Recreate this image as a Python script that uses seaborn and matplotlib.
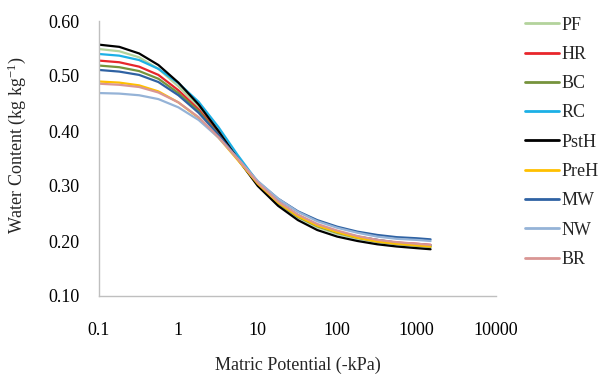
import matplotlib
matplotlib.use("Agg")
import matplotlib.pyplot as plt
import seaborn as sns
import pandas as pd

# Matric potential (-kPa)
potential = [0.1, 0.18, 0.32, 0.56, 1, 1.8, 3.2, 5.6, 10, 18, 32, 56, 100, 180, 320, 560, 1000, 1500]

series_names = ["PF", "HR", "BC", "RC", "PstH", "PreH", "MW", "NW", "BR"]

PF   = [0.549, 0.545, 0.534, 0.513, 0.481, 0.444, 0.399, 0.350, 0.303, 0.268, 0.243, 0.225, 0.213, 0.204, 0.198, 0.194, 0.191, 0.189]
HR   = [0.528, 0.525, 0.517, 0.502, 0.474, 0.439, 0.396, 0.350, 0.304, 0.270, 0.246, 0.229, 0.217, 0.208, 0.202, 0.197, 0.195, 0.193]
BC   = [0.519, 0.516, 0.509, 0.495, 0.469, 0.436, 0.394, 0.349, 0.303, 0.269, 0.244, 0.227, 0.215, 0.206, 0.199, 0.195, 0.192, 0.190]
RC   = [0.540, 0.537, 0.529, 0.513, 0.487, 0.453, 0.407, 0.356, 0.307, 0.272, 0.247, 0.229, 0.217, 0.208, 0.202, 0.197, 0.194, 0.192]
PstH = [0.557, 0.553, 0.541, 0.520, 0.488, 0.448, 0.400, 0.349, 0.300, 0.264, 0.238, 0.220, 0.208, 0.200, 0.194, 0.190, 0.187, 0.185]
PreH = [0.490, 0.488, 0.483, 0.472, 0.452, 0.424, 0.388, 0.347, 0.304, 0.270, 0.245, 0.228, 0.216, 0.206, 0.199, 0.195, 0.192, 0.190]
MW   = [0.511, 0.508, 0.502, 0.489, 0.465, 0.433, 0.393, 0.350, 0.308, 0.277, 0.254, 0.238, 0.226, 0.217, 0.211, 0.207, 0.205, 0.203]
NW   = [0.469, 0.468, 0.465, 0.458, 0.443, 0.420, 0.388, 0.350, 0.309, 0.277, 0.253, 0.236, 0.224, 0.215, 0.208, 0.204, 0.202, 0.200]
BR   = [0.486, 0.484, 0.480, 0.470, 0.452, 0.425, 0.389, 0.349, 0.306, 0.272, 0.248, 0.231, 0.219, 0.209, 0.202, 0.198, 0.195, 0.193]

colors = {
    "PF": "#b3d39c", "HR": "#e8262b", "BC": "#76933c", "RC": "#1cb0e6",
    "PstH": "#000000", "PreH": "#ffc000", "MW": "#2f62a3", "NW": "#95b3d7",
    "BR": "#d99694",
}

values = {"PF": PF, "HR": HR, "BC": BC, "RC": RC, "PstH": PstH,
          "PreH": PreH, "MW": MW, "NW": NW, "BR": BR}

rows = []
for name in series_names:
    for x, y in zip(potential, values[name]):
        rows.append({"Potential": x, "Water": y, "Site": name})
df = pd.DataFrame(rows)

sns.set_style("white")
plt.rcParams["font.family"] = ["Liberation Serif", "DejaVu Serif"]
plt.rcParams["mathtext.fontset"] = "stix"

FS = 13

fig = plt.figure(figsize=(6.07, 3.77), dpi=100)
ax = fig.add_axes([99/607, 1-296/377, (496-99)/607, (296-21)/377])

sns.lineplot(data=df, x="Potential", y="Water", hue="Site", hue_order=series_names,
             palette=colors, linewidth=1.6, ax=ax, legend=False, sort=True)
for ln in ax.get_lines():
    ln.set_solid_joinstyle("round")

ax.set_xscale("log")
ax.set_xlim(0.1, 10000)
ax.set_ylim(0.10, 0.60)
ax.set_xticks([0.1, 1, 10, 100, 1000, 10000])
ax.set_xticklabels(["0.1", "1", "10", "100", "1000", "10000"])
ax.set_yticks([0.10, 0.20, 0.30, 0.40, 0.50, 0.60])
ax.set_yticklabels(["0.10", "0.20", "0.30", "0.40", "0.50", "0.60"])
ax.minorticks_off()
ax.tick_params(axis="both", length=0, labelsize=FS, colors="#000000")
ax.tick_params(axis="x", pad=18.5)
ax.tick_params(axis="y", pad=14)

for s in ["top", "right"]:
    ax.spines[s].set_visible(False)
for s in ["left", "bottom"]:
    ax.spines[s].set_color("#bfbfbf")
    ax.spines[s].set_linewidth(1.0)

ax.set_xlabel("Matric Potential (-kPa)", fontsize=FS)
ax.set_ylabel("Water Content (kg kg$^{\\mathregular{-1}}$)", fontsize=FS)
ax.xaxis.set_label_coords(0.5, -0.222)
ax.yaxis.set_label_coords(-0.178, 0.55)

handles = [plt.Line2D([0], [0], color=colors[n], linewidth=2.0) for n in series_names]
fig.legend(handles, series_names, loc="upper left", bbox_to_anchor=(521/607, 1-13/377),
           frameon=False, fontsize=FS, handlelength=1.9, handletextpad=0.12,
           labelspacing=0.68, borderaxespad=0, borderpad=0.2)

fig.savefig("out.png", dpi=100)
